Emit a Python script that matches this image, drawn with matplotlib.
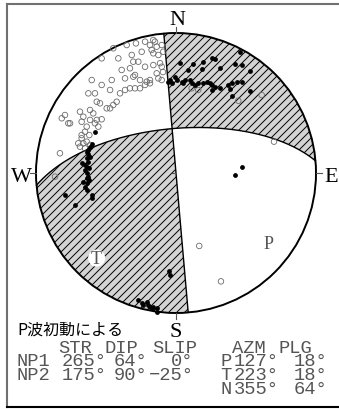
import numpy as np
import matplotlib.pyplot as plt
from matplotlib.patches import Circle, Polygon
from matplotlib.collections import LineCollection
from matplotlib.lines import Line2D

# nodal planes (strike, dip, slip) and principal axes (azimuth, plunge)
NP1 = (265, 64, 0)
NP2 = (175, 90, -25)
P_AXIS = (127, 18)
T_AXIS = (223, 18)
N_AXIS = (355, 64)

# first motions on the lower hemisphere, equal-area coords (x = east, y = north, radius 1)
UP_X = [0.457, 0.255, 0.279, 0.029, 0.124, 0.195, 0.088, 0.184, 0.314, 0.421,
        0.469, 0.529, -0.007, -0.043, -0.031, 0.005, 0.041, 0.052, 0.064, 0.100,
        0.112, 0.136, 0.159, 0.195, 0.219, 0.243, 0.255, 0.279, 0.255, 0.314,
        0.374, 0.398, 0.434, 0.469, 0.386, 0.398, 0.529, -0.055, 0.469, 0.421,
        -0.579, -0.614, -0.626, -0.638, -0.614, -0.638, -0.626, -0.674, -0.638, -0.650,
        -0.638, -0.626, -0.662, -0.638, -0.650, -0.638, -0.602, -0.602, -0.793, -0.721,
        -0.629, -0.650, -0.621, -0.636, -0.621, -0.600, -0.048, -0.043, -0.269, -0.245,
        -0.234, -0.209, -0.198, -0.186, -0.174, -0.162, -0.138, -0.138]
UP_Y = [0.866, 0.819, 0.812, 0.784, 0.776, 0.791, 0.736, 0.741, 0.748, 0.776,
        0.771, 0.731, 0.688, 0.664, 0.645, 0.664, 0.652, 0.641, 0.664, 0.664,
        0.641, 0.629, 0.641, 0.641, 0.652, 0.645, 0.629, 0.616, 0.593, 0.605,
        0.629, 0.641, 0.652, 0.652, 0.598, 0.550, 0.586, 0.652, 0.041, -0.014,
        0.295, 0.188, 0.164, 0.152, 0.116, 0.105, 0.081, 0.069, 0.045, 0.021,
        -0.002, -0.026, -0.062, -0.074, -0.098, -0.121, -0.157, -0.181, -0.157, -0.229,
        0.136, 0.057, -0.050, -0.036, 0.036, 0.207, -0.698, -0.726, -0.907, -0.931,
        -0.943, -0.919, -0.943, -0.955, -0.966, -0.955, -0.966, -0.991]

DOWN_X = [-0.448, -0.352, -0.286, -0.221, -0.186, -0.150, -0.138, -0.102, -0.531, -0.412,
          -0.316, -0.305, -0.245, -0.269, -0.162, -0.126, -0.091, -0.388, -0.329, -0.293,
          -0.221, -0.162, -0.114, -0.602, -0.531, -0.459, -0.364, -0.305, -0.257, -0.209,
          -0.186, -0.126, -0.102, -0.626, -0.579, -0.471, -0.400, -0.364, -0.329, -0.293,
          -0.257, -0.221, -0.186, -0.566, -0.543, -0.495, -0.471, -0.424, -0.448, -0.793,
          -0.816, -0.769, -0.686, -0.662, -0.674, -0.614, -0.591, -0.614, -0.566, -0.531,
          -0.638, -0.555, -0.650, -0.674, -0.619, -0.757, -0.579, -0.674, -0.698, -0.686,
          -0.662, -0.638, -0.650, -0.614, -0.829, -0.864, 0.112, 0.159, 0.445, 0.612,
          0.700, 0.166, 0.321, -0.162, -0.174, -0.102, -0.138, -0.093]
DOWN_Y = [0.891, 0.914, 0.926, 0.938, 0.914, 0.938, 0.902, 0.914, 0.819, 0.819,
          0.843, 0.795, 0.866, 0.795, 0.855, 0.843, 0.866, 0.736, 0.748, 0.700,
          0.759, 0.771, 0.784, 0.664, 0.629, 0.664, 0.676, 0.688, 0.664, 0.652,
          0.664, 0.676, 0.664, 0.569, 0.569, 0.593, 0.569, 0.593, 0.605, 0.605,
          0.605, 0.629, 0.641, 0.509, 0.498, 0.462, 0.462, 0.509, 0.486, 0.414,
          0.391, 0.355, 0.438, 0.402, 0.366, 0.450, 0.426, 0.379, 0.379, 0.384,
          0.331, 0.331, 0.295, 0.271, 0.271, 0.355, 0.355, 0.248, 0.212, 0.188,
          0.212, 0.224, 0.176, 0.200, 0.141, -0.026, 0.605, 0.593, 0.516, 0.557,
          0.224, -0.521, -0.774, 0.950, 0.879, 0.759, 0.712, 0.721]

TABLE_HEAD = ["STR", "DIP", "SLIP", "AZM", "PLG"]
AXIS_NAMES = ["P", "T", "N"]

# layout, in pixels of the 339x409 canvas
W_PX, H_PX = 339, 409
CX, CY, R = 176.0, 173.0, 140.0
SHADE = "#d4d4d4"
HATCH_STEP = 8.0 / R


def project(trend, plunge):
    """Lower-hemisphere equal-area (Schmidt) projection of a line."""
    tr = np.radians(trend)
    pl = np.radians(plunge)
    r = np.sqrt(2.0) * np.sin((np.pi / 2 - pl) / 2)
    return r * np.sin(tr), r * np.cos(tr)


def plane_vectors(strike, dip):
    """Strike and down-dip unit vectors in (north, east, down)."""
    s, d = np.radians(strike), np.radians(dip)
    sv = np.array([np.cos(s), np.sin(s), 0.0])
    dv = np.array([np.cos(d) * np.cos(s + np.pi / 2),
                   np.cos(d) * np.sin(s + np.pi / 2),
                   np.sin(d)])
    return sv, dv


def plane_trace(strike, dip, t0, t1, n=120):
    """Great-circle trace of a plane, t measured from strike toward dip (deg)."""
    sv, dv = plane_vectors(strike, dip)
    t = np.radians(np.linspace(t0, t1, n))
    v = np.outer(np.cos(t), sv) + np.outer(np.sin(t), dv)
    trend = np.degrees(np.arctan2(v[:, 1], v[:, 0]))
    plunge = np.degrees(np.arcsin(np.clip(v[:, 2], -1, 1)))
    x, y = project(trend, plunge)
    return np.column_stack([x, y])


def null_angle(strike, dip, trend, plunge):
    """Position of the null axis inside a plane, same convention as plane_trace."""
    sv, dv = plane_vectors(strike, dip)
    tr, pl = np.radians(trend), np.radians(plunge)
    nv = np.array([np.cos(pl) * np.cos(tr), np.cos(pl) * np.sin(tr), np.sin(pl)])
    return np.degrees(np.arctan2(nv @ dv, nv @ sv))


def rim(az0, az1, n=90):
    x, y = project(np.linspace(az0, az1, n), 0.0)
    return np.column_stack([x, y])


def fig_xy(x, y):
    return x / W_PX, 1 - y / H_PX


fig = plt.figure(figsize=(W_PX / 100, H_PX / 100), dpi=100)
ax = fig.add_axes([0, 0, 1, 1])
ax.set_xlim(-CX / R, (W_PX - CX) / R)
ax.set_ylim((CY - H_PX) / R, CY / R)
ax.axis("off")

s1, d1 = NP1[0], NP1[1]
s2, d2 = NP2[0], NP2[1]
t1 = null_angle(s1, d1, *N_AXIS)
t2 = null_angle(s2, d2, *N_AXIS)

# compressional quadrants: north-east and south-west
ne = np.vstack([plane_trace(s1, d1, t1, 180),
                rim((s1 + 180) % 360, (s2 + 180) % 360 - 360),
                plane_trace(s2, d2, 180, t2)])
sw = np.vstack([plane_trace(s1, d1, t1, 0),
                rim(s1, s2),
                plane_trace(s2, d2, 0, t2)])

offsets = np.arange(-3.0, 3.0, HATCH_STEP)
for poly in (ne, sw):
    patch = Polygon(poly, closed=True, facecolor=SHADE, edgecolor="none", zorder=1)
    ax.add_patch(patch)
    segs = [[(-1.5, -1.5 + c), (1.5, 1.5 + c)] for c in offsets]
    hatch = LineCollection(segs, colors="black", linewidths=0.7, zorder=2)
    hatch.set_clip_path(patch)
    ax.add_collection(hatch)

for strike, dip in ((s1, d1), (s2, d2)):
    tr = plane_trace(strike, dip, 0, 180, n=240)
    ax.plot(tr[:, 0], tr[:, 1], color="black", lw=1.0, zorder=3)

ax.add_patch(Circle((0, 0), 1.0, facecolor="none", edgecolor="black", lw=1.4, zorder=4))

# compass ticks and centre mark
for az in (0, 90, 180, 270):
    a = np.radians(az)
    ax.plot([np.sin(a), 1.04 * np.sin(a)], [np.cos(a), 1.04 * np.cos(a)],
            color="#555555", lw=0.8, zorder=4)
ax.plot([-0.025, 0.0], [0, 0], color="#555555", lw=0.8, zorder=4)

ax.scatter(DOWN_X, DOWN_Y, s=16, facecolors="none", edgecolors="#6a6a6a",
           linewidths=0.6, zorder=5)
ax.scatter(UP_X, UP_Y, s=12, color="black", linewidths=0, zorder=6)

# P and T axes
px_, py_ = project(*P_AXIS)
tx_, ty_ = project(*T_AXIS)
ax.add_patch(Circle((tx_, ty_), 8.5 / R, facecolor="white", edgecolor="none", zorder=7))
for (x, y), name in (((px_, py_), "P"), ((tx_, ty_), "T")):
    ax.annotate(name, (x, y), xytext=(0, -4.3), textcoords="offset points",
                ha="center", va="baseline", fontsize=13, color="#555555",
                family="Liberation Serif", zorder=8)

serif = dict(family="Liberation Serif", fontsize=16, color="black",
             ha="center", va="baseline")
for label, (x, y) in (("N", (177.5, 25)), ("E", (331, 181.5)),
                      ("S", (176, 337)), ("W", (21, 181.5))):
    fig.text(*fig_xy(x, y), label, **serif)

fig.text(*fig_xy(17, 335), "P波初動による", family=["Noto Sans CJK JP", "DejaVu Sans"],
         fontsize=11.5, color="black", ha="left", va="baseline")

# parameter table
mono = dict(family=["Liberation Mono", "DejaVu Sans Mono"], fontsize=13.5,
            color="#555555", va="baseline")


def put(x, y, s, ha="left"):
    fig.text(*fig_xy(x, y), s, ha=ha, **mono)


for word, x in zip(TABLE_HEAD, (58.5, 105, 152, 232, 278.5)):
    put(x, 353, word)

rows = [("NP1", NP1), ("NP2", NP2)]
for (name, plane), base in zip(rows, (366.5, 380)):
    put(17, base, name)
    put(107, base, f"{plane[0]}°", ha="right")
    put(147.5, base, f"{plane[1]}°", ha="right")
    put(193.5, base, f"{plane[2]}°".replace("-", "\u2212"), ha="right")

axes_rows = [P_AXIS, T_AXIS, N_AXIS]
for name, (az, pl), base in zip(AXIS_NAMES, axes_rows, (366.5, 380, 393.5)):
    put(220, base, name)
    put(278.5, base, f"{az}°", ha="right")
    put(327, base, f"{pl}°", ha="right")

# frame (right side runs off the canvas)
frame = dict(transform=fig.transFigure, lw=1.5)
fig.add_artist(Line2D([6.5 / W_PX, 6.5 / W_PX], [1 - 3.5 / H_PX, 1 - 406.5 / H_PX],
                      color="#707070", **frame))
fig.add_artist(Line2D([6.5 / W_PX, 1.01], [1 - 3.5 / H_PX, 1 - 3.5 / H_PX],
                      color="#707070", **frame))
fig.add_artist(Line2D([6.5 / W_PX, 1.01], [1 - 406.5 / H_PX, 1 - 406.5 / H_PX],
                      color="black", **frame))

fig.savefig("out.png", dpi=100)
